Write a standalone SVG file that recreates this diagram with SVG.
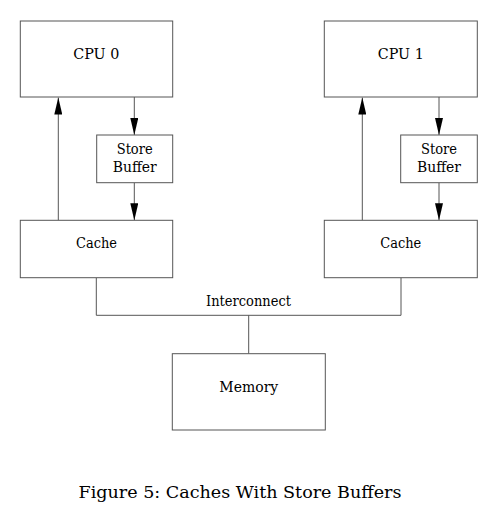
<svg xmlns="http://www.w3.org/2000/svg" width="495" height="516" viewBox="0 0 495 516">
<style>
.box{fill:#fff;stroke:#555;stroke-width:1}
.ln{fill:none;stroke:#555;stroke-width:1}
text{font-family:"DejaVu Serif","Liberation Serif",serif;font-size:14px;fill:#000;text-anchor:middle}
.cap{font-size:17px}
</style>
<defs>
<marker id="ah" markerWidth="17" markerHeight="8" refX="17" refY="4" orient="auto" markerUnits="userSpaceOnUse" viewBox="0 0 17 8">
<path d="M0,0 L17,4 L0,8 Z" fill="#000"/>
</marker>
</defs>
<rect width="495" height="516" fill="#fff"/>
<g id="connectors">
<line class="ln" x1="58.3" y1="220.3" x2="58.3" y2="97.5" marker-end="url(#ah)"/>
<line class="ln" x1="134.3" y1="97" x2="134.3" y2="135" marker-end="url(#ah)"/>
<line class="ln" x1="134.3" y1="182.7" x2="134.3" y2="220.3" marker-end="url(#ah)"/>
<line class="ln" x1="362.3" y1="220.3" x2="362.3" y2="97.5" marker-end="url(#ah)"/>
<line class="ln" x1="439" y1="97" x2="439" y2="135" marker-end="url(#ah)"/>
<line class="ln" x1="439" y1="182.7" x2="439" y2="220.3" marker-end="url(#ah)"/>
<polyline class="ln" points="96.3,277.7 96.3,315.3 401,315.3 401,277.7"/>
<line class="ln" x1="248.7" y1="315.3" x2="248.7" y2="353.7"/>
<text x="248.5" y="306" textLength="85" lengthAdjust="spacingAndGlyphs">Interconnect</text>
</g>
<g id="cpu0"><rect class="box" x="20.3" y="21" width="152.4" height="76"/><text x="96.3" y="59" textLength="46" lengthAdjust="spacingAndGlyphs">CPU 0</text></g>
<g id="sb0"><rect class="box" x="96.7" y="135" width="76" height="47.7"/><text x="134.7" y="154" textLength="36" lengthAdjust="spacingAndGlyphs">Store</text><text x="134.7" y="172.3" textLength="44" lengthAdjust="spacingAndGlyphs">Buffer</text></g>
<g id="cache0"><rect class="box" x="20.3" y="220.3" width="152.4" height="57.4"/><text x="96.5" y="248.3" textLength="41" lengthAdjust="spacingAndGlyphs">Cache</text></g>
<g id="cpu1"><rect class="box" x="324.3" y="21" width="153" height="76"/><text x="400.8" y="59" textLength="46" lengthAdjust="spacingAndGlyphs">CPU 1</text></g>
<g id="sb1"><rect class="box" x="400.7" y="135" width="76.6" height="47.7"/><text x="439" y="154" textLength="36" lengthAdjust="spacingAndGlyphs">Store</text><text x="439" y="172.3" textLength="44" lengthAdjust="spacingAndGlyphs">Buffer</text></g>
<g id="cache1"><rect class="box" x="324.3" y="220.3" width="153" height="57.4"/><text x="400.8" y="248.3" textLength="41" lengthAdjust="spacingAndGlyphs">Cache</text></g>
<g id="memory"><rect class="box" x="172.3" y="353.7" width="153" height="76.3"/><text x="248.8" y="391.7" textLength="59" lengthAdjust="spacingAndGlyphs">Memory</text></g>
<text class="cap" x="240" y="498" textLength="323" lengthAdjust="spacingAndGlyphs">Figure 5: Caches With Store Buffers</text>
</svg>
